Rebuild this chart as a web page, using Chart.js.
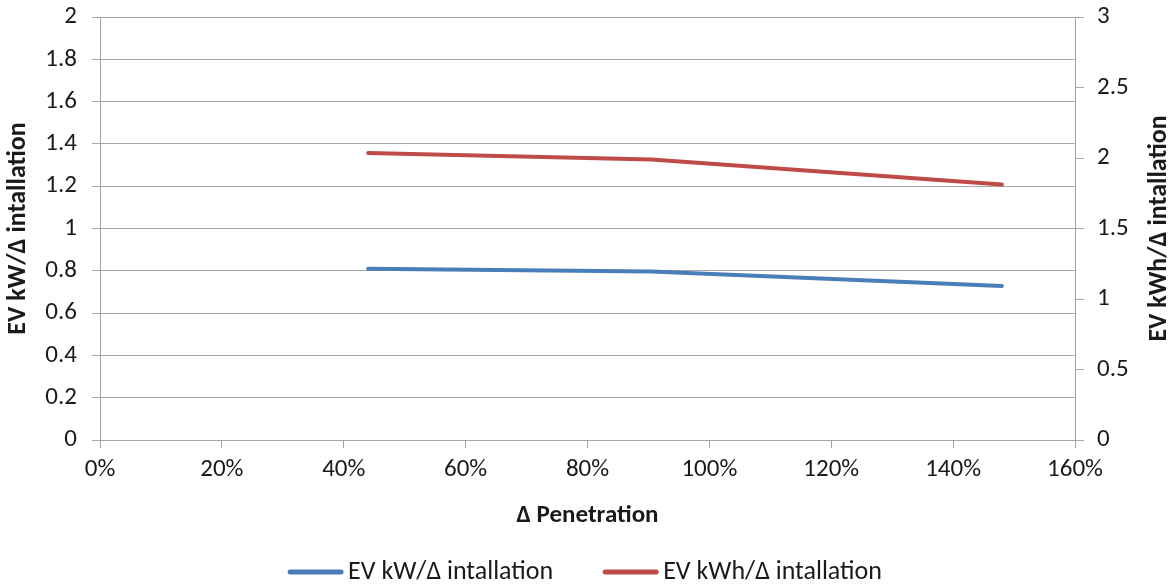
<!DOCTYPE html>
<html>
<head>
<meta charset="utf-8">
<script src="https://cdn.jsdelivr.net/npm/chart.js@4"></script>
<style>
html,body{margin:0;padding:0;background:#fff;}
#wrap{width:1176px;height:586px;position:relative;}
</style>
</head>
<body>
<div id="wrap"><canvas id="c" width="1176" height="586"></canvas></div>
<script>
const penetration = [44, 90.5, 148];
const kWPerInstall = [0.81, 0.797, 0.728];
const kWhPerInstall = [2.035, 1.99, 1.812];
const seriesNames = ["EV kW/\u0394 intallation", "EV kWh/\u0394 intallation"];
const xTitle = "\u0394 Penetration";
const leftTitle = "EV kW/\u0394 intallation";
const rightTitle = "EV kWh/\u0394 intallation";

const FONT = "Carlito, Lato, 'Liberation Sans', sans-serif";
const GRID = "#a6a6a6";
const TXT = "#1a1a1a";

const rightTitlePlugin = {
  id: 'rightTitle',
  afterDraw(chart) {
    const s = chart.scales.y2;
    const ctx = chart.ctx;
    ctx.save();
    ctx.translate(1159, (s.top + s.bottom) / 2);
    ctx.rotate(-Math.PI / 2);
    ctx.font = "bold 26px " + FONT;
    ctx.fillStyle = TXT;
    ctx.textAlign = 'center';
    ctx.textBaseline = 'middle';
    ctx.fillText(rightTitle, 0, 0);
    ctx.restore();
  }
};

const legendPlugin = {
  id: 'customLegend',
  afterDraw(chart) {
    const ctx = chart.ctx;
    const ds = chart.data.datasets;
    ctx.save();
    ctx.font = "26px " + FONT;
    const lineW = 55, gapT = 5, gapItem = 50;
    const widths = ds.map(d => ctx.measureText(d.label).width);
    let total = 0;
    widths.forEach((w, i) => { total += lineW + gapT + w + (i < widths.length - 1 ? gapItem : 0); });
    let x = 585 - total / 2;
    const y = 572;
    ds.forEach((d, i) => {
      ctx.strokeStyle = d.borderColor;
      ctx.lineWidth = 5;
      ctx.lineCap = 'round';
      ctx.beginPath();
      ctx.moveTo(x + 2, y);
      ctx.lineTo(x + lineW - 2, y);
      ctx.stroke();
      x += lineW + gapT;
      ctx.fillStyle = TXT;
      ctx.textAlign = 'left';
      ctx.textBaseline = 'middle';
      ctx.fillText(d.label, x, y);
      x += widths[i] + gapItem;
    });
    ctx.restore();
  }
};

new Chart(document.getElementById('c'), {
  type: 'line',
  data: {
    datasets: [
      {
        label: seriesNames[0],
        data: penetration.map((x, i) => ({x: x, y: kWPerInstall[i]})),
        borderColor: '#4a7ebb',
        backgroundColor: '#4a7ebb',
        borderWidth: 4,
        borderCapStyle: 'round',
        borderJoinStyle: 'round',
        pointRadius: 0,
        tension: 0,
        yAxisID: 'y'
      },
      {
        label: seriesNames[1],
        data: penetration.map((x, i) => ({x: x, y: kWhPerInstall[i]})),
        borderColor: '#be4b48',
        backgroundColor: '#be4b48',
        borderWidth: 4,
        borderCapStyle: 'round',
        borderJoinStyle: 'round',
        pointRadius: 0,
        tension: 0,
        yAxisID: 'y2'
      }
    ]
  },
  options: {
    responsive: false,
    animation: false,
    devicePixelRatio: 1,
    layout: { padding: { top: 17, left: 0, right: 0, bottom: 46 } },
    plugins: {
      legend: { display: false },
      tooltip: { enabled: false }
    },
    scales: {
      x: {
        type: 'linear',
        min: 0,
        max: 160,
        ticks: {
          stepSize: 20,
          color: TXT,
          padding: 7,
          font: { family: FONT, size: 25 },
          callback: v => v + '%'
        },
        grid: { drawOnChartArea: false, color: GRID, tickLength: 8, lineWidth: 1 },
        border: { color: GRID, width: 1 },
        title: {
          display: true,
          text: xTitle,
          color: TXT,
          font: { family: FONT, size: 25, weight: 'bold' },
          padding: { top: 0, bottom: 9 }
        },
        afterFit(s) { s.height = 100; s.paddingLeft = 0; s.paddingRight = 0; }
      },
      y: {
        position: 'left',
        min: 0,
        max: 2,
        ticks: {
          stepSize: 0.2,
          color: TXT,
          padding: 15,
          font: { family: FONT, size: 25 },
          callback: v => Math.round(v * 10) / 10
        },
        grid: { color: GRID, tickLength: 8, lineWidth: 1 },
        border: { color: GRID, width: 1 },
        title: {
          display: true,
          text: leftTitle,
          color: TXT,
          font: { family: FONT, size: 26, weight: 'bold' },
          padding: { top: 3, bottom: 0 }
        },
        afterFit(s) { s.width = 100; s.paddingTop = 0; s.paddingBottom = 0; }
      },
      y2: {
        position: 'right',
        min: 0,
        max: 3,
        ticks: {
          stepSize: 0.5,
          color: TXT,
          padding: 13,
          font: { family: FONT, size: 25 },
          callback: v => v
        },
        grid: { drawOnChartArea: false, color: GRID, tickLength: 9, lineWidth: 1 },
        border: { color: GRID, width: 1 },
        afterFit(s) { s.width = 101; s.paddingTop = 0; s.paddingBottom = 0; }
      }
    }
  },
  plugins: [rightTitlePlugin, legendPlugin]
});
</script>
</body>
</html>
